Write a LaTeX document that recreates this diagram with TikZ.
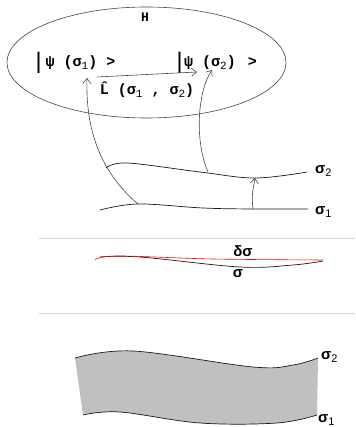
\documentclass[tikz,border=0pt]{standalone}
\usepackage{fontspec}
\usepackage{graphicx}
\newfontfamily\monof{Liberation Mono}
\newfontfamily\sansf{Liberation Sans}
\usetikzlibrary{arrows.meta}
\definecolor{ink}{RGB}{25,25,25}
\definecolor{wire}{RGB}{70,70,70}
\definecolor{sheetgray}{RGB}{192,192,192}
\definecolor{rulegray}{RGB}{215,215,215}
\newcommand{\idx}[1]{\raisebox{-0.35ex}{\fontsize{11}{11}\selectfont\mdseries #1}}
\newcommand{\bra}{\raisebox{-0.25ex}{\scalebox{1}[1.5]{|}}}
\tikzset{
  >={Straight Barb[length=5pt,width=8pt]},
  ket/.style={font=\monof\bfseries\fontsize{15}{16}\selectfont,inner sep=1pt},
  slab/.style={font=\sansf\bfseries\fontsize{15}{16}\selectfont,inner sep=1pt,anchor=west},
  sheet/.style={draw=ink,line width=0.7pt},
  lift/.style={->,draw=wire,line width=0.6pt},
  split/.style={draw=rulegray,line width=0.8pt},
}
\begin{document}
\begin{tikzpicture}[x=1pt,y=-1pt]
  \useasboundingbox (0,0) rectangle (355,427);
  % Hilbert space
  \draw[draw=wire,line width=0.6pt] (146.5,62.5) ellipse [x radius=139.5,y radius=55.5];
  \node[ket,font=\monof\bfseries\fontsize{13}{14}\selectfont] (H) at (145,17) {H};
  \node[ket,anchor=west] (psi1) at (33,63) {\bra\,ψ (σ\idx{1}) >};
  \node[ket,anchor=west] (psi2) at (174,63) {\bra ψ (σ\idx{2})\hspace{3pt} >};
  \node[ket] (L) at (147,90) {\^{L} (σ\idx{1} , σ\idx{2})};
  \coordinate (u1) at (97,77);
  \coordinate (u2) at (197,72);
  \coordinate (t1) at (87,78);
  \coordinate (t2) at (212,70);
  \draw[lift] (u1) -- (u2);

  % two surfaces
  \draw[sheet] plot[smooth,tension=0.6] coordinates {(100,210) (138,204) (203,208) (253,209) (308,209)};
  \draw[sheet] plot[smooth,tension=0.6] coordinates {(106,168) (127,163) (200,172) (255,178) (307,172)};
  \node[slab] (s1) at (314,212) {σ\idx{1}};
  \node[slab] (s2) at (314,171) {σ\idx{2}};
  \coordinate (a1) at (138,204);
  \coordinate (a2) at (208,172);
  \coordinate (b1) at (253,209);
  \coordinate (b2) at (255,178);
  \draw[lift] (a1) .. controls (92,165) and (86,115) .. (t1);
  \draw[lift] (a2) .. controls (194,140) and (198,90) .. (t2);
  \draw[lift] (b1) .. controls (251,192) and (254,186) .. (b2);

  \draw[split] (39,238) -- (355,238);

  % variation
  \draw[sheet] plot[smooth,tension=0.6] coordinates {(100,257) (140,257) (240,267) (293,265) (323,261)};
  \draw[red,line width=0.6pt] plot[smooth,tension=0.6] coordinates {(95,260) (117,256) (213,259) (323,260)};
  \node[slab,anchor=center] (ds) at (243,251) {δσ};
  \node[slab,anchor=center] (sg) at (238,274) {σ};

  \draw[split] (39,313) -- (355,313);

  % swept region
  \fill[sheetgray] plot[smooth,tension=0.6] coordinates {(75,358) (133,351) (253,367) (293,365) (318,358)}
    -- (317,415)
    -- plot[smooth,tension=0.6] coordinates {(317,415) (277,423) (200,423) (120,412) (83,415)} -- cycle;
  \draw[sheet] plot[smooth,tension=0.6] coordinates {(75,358) (133,351) (253,367) (293,365) (318,358)};
  \draw[sheet] plot[smooth,tension=0.6] coordinates {(83,415) (120,412) (200,423) (277,423) (317,415)};
  \node[slab] (r2) at (320,357) {σ\idx{2}};
  \node[slab] (r1) at (317,420) {σ\idx{1}};
\end{tikzpicture}
\end{document}
